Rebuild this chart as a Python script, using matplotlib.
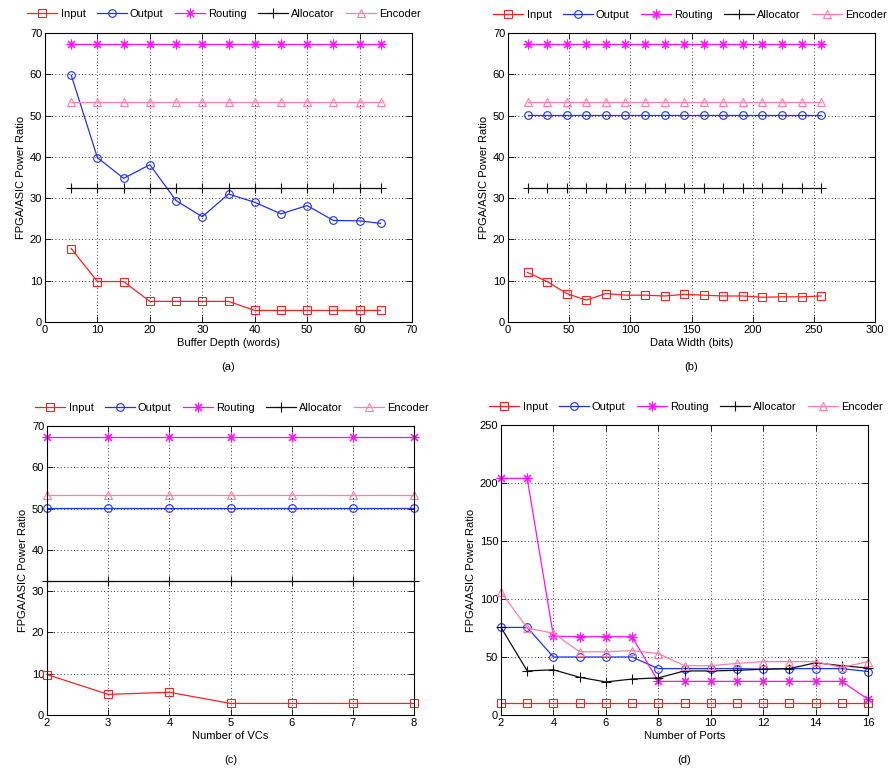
"""
FPGA/ASIC power ratio of the router components
"""

import numpy as np
import matplotlib
matplotlib.use("Agg")
import matplotlib.pyplot as plt

plt.rcParams['font.family'] = ['Liberation Sans', 'DejaVu Sans']
plt.rcParams['font.size'] = 8

W, H = 891, 771

names = ['Input', 'Output', 'Routing', 'Allocator', 'Encoder']
colors = ['#ff2020', '#2030ff', '#ff10ff', '#101010', '#ff7fa6']
# asterisk like the matlab '*' marker
markers = ['s', 'o', (8, 2, 0), '+', '^']

# (a) buffer depth
depth = [5, 10, 15, 20, 25, 30, 35, 40, 45, 50, 55, 60, 64]
a_input = [17.8, 9.8, 9.8, 5.0, 5.0, 5.0, 5.0, 2.8, 2.8, 2.8, 2.8, 2.8, 2.8]
a_output = [59.8, 39.8, 34.8, 38.1, 29.4, 25.5, 31.0, 29.0, 26.2, 28.2, 24.6, 24.5, 23.9]
a_routing = [67.4] * 13
a_alloc = [32.5] * 13
a_encoder = [53.4] * 13

# (b) data width
width = [16, 32, 48, 64, 80, 96, 112, 128, 144, 160, 176, 192, 208, 224, 240, 256]
b_input = [12.0, 9.8, 6.9, 5.3, 6.9, 6.5, 6.5, 6.3, 6.7, 6.5, 6.3, 6.3, 6.0, 6.1, 6.1, 6.3]
b_output = [50.2] * 16
b_routing = [67.4] * 16
b_alloc = [32.5] * 16
b_encoder = [53.4] * 16

# (c) number of VCs
vcs = [2, 3, 4, 5, 6, 7, 8]
c_input = [9.8, 5.0, 5.5, 2.8, 2.8, 2.8, 2.8]
c_output = [50.2] * 7
c_routing = [67.4] * 7
c_alloc = [32.5] * 7
c_encoder = [53.4] * 7

# (d) number of ports
ports = list(range(2, 17))
d_input = [10] * 15
d_output = [75.5, 75.5, 50, 50, 50, 50, 40, 40, 40, 40, 39.5, 40, 40, 40, 37.5]
d_routing = [204, 204, 68, 67.5, 67.5, 67.5, 29, 29, 29, 29, 29, 29, 29, 29, 13.5]
d_alloc = [75.5, 38, 39, 32.5, 28.5, 31, 32, 38, 38, 38.5, 39.5, 40, 45, 42.5, 40.5]
d_encoder = [106, 75, 70.5, 54.5, 54.5, 55.5, 53, 42.5, 42.5, 44.5, 46, 46, 46, 41, 46]


def panel(box, x, series, xlim, xticks, ylim, yticks, xlabel, tag, leg_c):
    l, t, r, b = box
    ax = fig.add_axes([l / W, 1 - b / H, (r - l) / W, (b - t) / H])
    handles = []
    for y, name, c, m in zip(series, names, colors, markers):
        ms = 5.5 if m in ('s', 'o', '^') else 7
        h, = ax.plot(x, y, color=c, marker=m, markersize=ms, markerfacecolor='none',
                     markeredgecolor=c, markeredgewidth=0.8, linewidth=0.9,
                     label=name, clip_on=False)
        handles.append(h)
    ax.set_xlim(*xlim)
    ax.set_ylim(*ylim)
    ax.set_xticks(xticks)
    ax.set_yticks(yticks)
    ax.grid(True, color='black', linestyle=(0, (1, 3)), linewidth=0.6)
    ax.tick_params(direction='in', top=True, right=True, length=4, width=0.6,
                   labelsize=8, pad=2)
    for s in ax.spines.values():
        s.set_linewidth(0.8)
    ax.set_xlabel(xlabel, fontsize=8, labelpad=2)
    ax.set_ylabel('FPGA/ASIC Power Ratio', fontsize=8, labelpad=3)
    fig.text((l + r) / 2 / W, 1 - (b + 45) / H, tag, ha='center', va='center', fontsize=8)
    ax.legend(handles=handles, loc='center', ncol=5, frameon=False, fontsize=8,
              handlelength=2.7, handletextpad=0.3, columnspacing=1.0,
              bbox_to_anchor=(leg_c[0] / W, 1 - leg_c[1] / H),
              bbox_transform=fig.transFigure)
    return ax


fig = plt.figure(figsize=(W / 100, H / 100), dpi=100)

panel((45, 33, 412, 322), depth, [a_input, a_output, a_routing, a_alloc, a_encoder],
      (0, 70), range(0, 71, 10), (0, 70), range(0, 71, 10),
      'Buffer Depth (words)', '(a)', (224, 14))
panel((508, 33, 875, 322), width, [b_input, b_output, b_routing, b_alloc, b_encoder],
      (0, 300), range(0, 301, 50), (0, 70), range(0, 71, 10),
      'Data Width (bits)', '(b)', (690, 15))
panel((47, 426, 414, 715), vcs, [c_input, c_output, c_routing, c_alloc, c_encoder],
      (2, 8), range(2, 9), (0, 70), range(0, 71, 10),
      'Number of VCs', '(c)', (232, 408))
panel((501, 425, 868, 715), ports, [d_input, d_output, d_routing, d_alloc, d_encoder],
      (2, 16), range(2, 17, 2), (0, 250), range(0, 251, 50),
      'Number of Ports', '(d)', (686, 407))

fig.savefig('out.png', dpi=100)
